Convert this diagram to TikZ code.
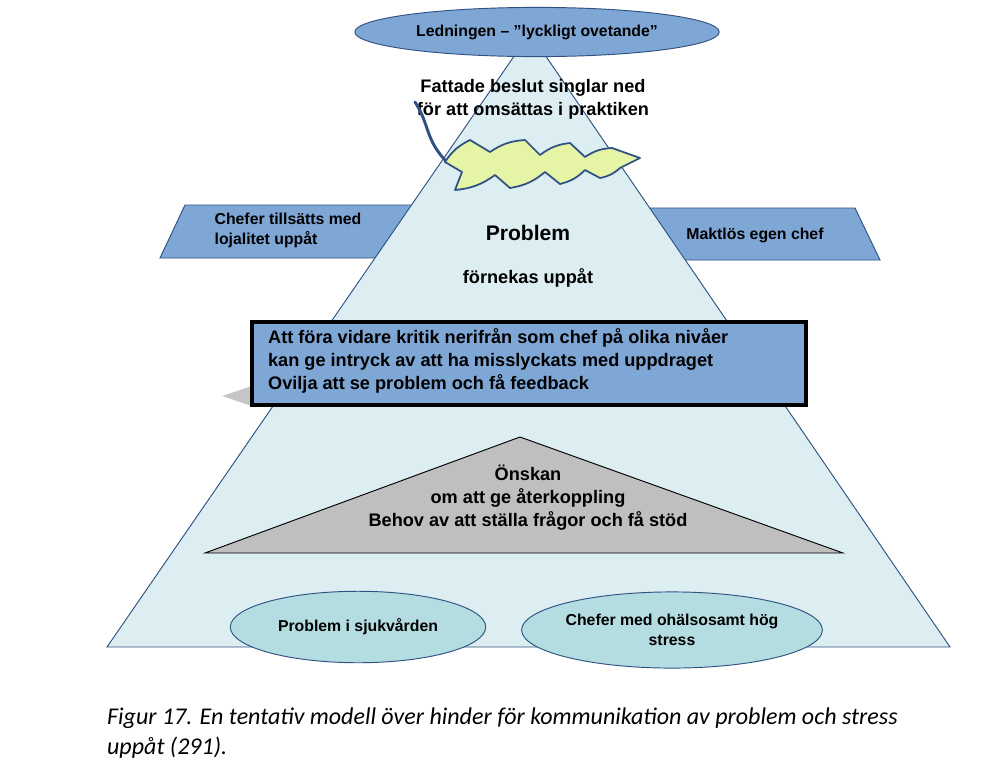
\documentclass[tikz,border=0pt]{standalone}
\usepackage{fontspec}
\setmainfont{Liberation Sans}
\newfontfamily\capfont{Carlito}
\usetikzlibrary{shapes.geometric}
\definecolor{boxblue}{HTML}{7FA7D6}
\definecolor{edgeblue}{HTML}{2F5283}
\definecolor{pyrfill}{HTML}{DCEEF2}
\definecolor{ovalfill}{HTML}{B4DDE2}
\definecolor{leaffill}{HTML}{E6F4A6}
\tikzset{
    bold/.style={font=\fontsize{15.5}{19.5}\selectfont\bfseries},
    small/.style={font=\fontsize{13.5}{17}\selectfont\bfseries},
    oval/.style={ellipse,draw=edgeblue,thick,fill=ovalfill,small,align=center,inner sep=0pt},
    side/.style={draw=edgeblue,thick,fill=boxblue}
}
\begin{document}
\begin{tikzpicture}[x=0.03cm,y=-0.03cm]
    \useasboundingbox[fill=white] (0,0) rectangle (1000,776);

    % Side bars behind the pyramid
    \draw[side] (160,258) -- (185,205) -- (415,205) -- (390,258) -- cycle;
    \draw[side] (640,208) -- (855,208) -- (880,260) -- (650,260) -- cycle;
    \node[small,align=left] (loyal) at (288,230) {Chefer tillsätts med\\lojalitet uppåt};
    \node[small] (powerless) at (755,235) {Maktlös egen chef};

    % Pyramid
    \coordinate (apex) at (530,33);
    \draw[draw=edgeblue,thick,fill=pyrfill] (apex) -- (950,647) -- (107,647) -- cycle;
    \node[font=\fontsize{18}{20}\selectfont\bfseries] (problem) at (528,233) {Problem};
    \node[bold] (deny) at (528,278) {förnekas uppåt};
    \node[bold,align=center] (decision) at (533,99) {Fattade beslut singlar ned\\för att omsättas i praktiken};

    % Leaf
    \draw[edgeblue,line width=2.5pt,line cap=round] (415,102) .. controls (430,125) and (425,140) .. (447,162);
    \draw[draw=edgeblue,line width=1.5pt,fill=leaffill,line join=round]
        (445,162) to[bend left=15] (470,140) -- (490,152) to[bend left=15] (525,140) -- (540,155) to[bend left=15] (570,143)
        -- (585,157) to[bend left=15] (612,148) -- (640,158) -- (620,168) to[bend left=15] (600,178) -- (585,170)
        to[bend left=15] (560,184) -- (545,172) to[bend left=15] (510,188) -- (495,175) to[bend left=15] (455,190) -- (462,172) -- cycle;

    % Top oval
    \node[ellipse,draw=edgeblue,thick,fill=boxblue,minimum width=311pt,minimum height=42pt,inner sep=0pt,small]
        (lead) at (537,32) {Ledningen – ”lyckligt ovetande”};

    % Criticism box
    \fill[gray!45] (222,396) -- (252,386) -- (252,406) -- cycle;
    \draw[line width=4pt,fill=boxblue] (252,322) rectangle (806,405);
    \node[bold,align=left,anchor=west] (critic) at (264,361)
        {Att föra vidare kritik nerifrån som chef på olika nivåer\\kan ge intryck av att ha misslyckats med uppdraget\\Ovilja att se problem och få feedback};

    % Inner triangle
    \draw[thick,fill=gray!50] (520,437) -- (843,553) -- (205,553) -- cycle;
    \node[bold,align=center] (wish) at (528,498) {Önskan\\om att ge återkoppling\\Behov av att ställa frågor och få stöd};

    % Bottom ovals
    \node[oval,minimum width=218pt,minimum height=61pt] (care) at (358,627) {Problem i sjukvården};
    \node[oval,minimum width=224pt,minimum height=65pt] (stress) at (672,630) {Chefer med ohälsosamt hög\\stress};

    % Caption
    \node[anchor=west,align=left,font=\capfont\itshape\fontsize{20.5}{26}\selectfont] (caption) at (103,733)
        {Figur 17. En tentativ modell över hinder för kommunikation av problem och stress\\uppåt (291).};
\end{tikzpicture}
\end{document}
